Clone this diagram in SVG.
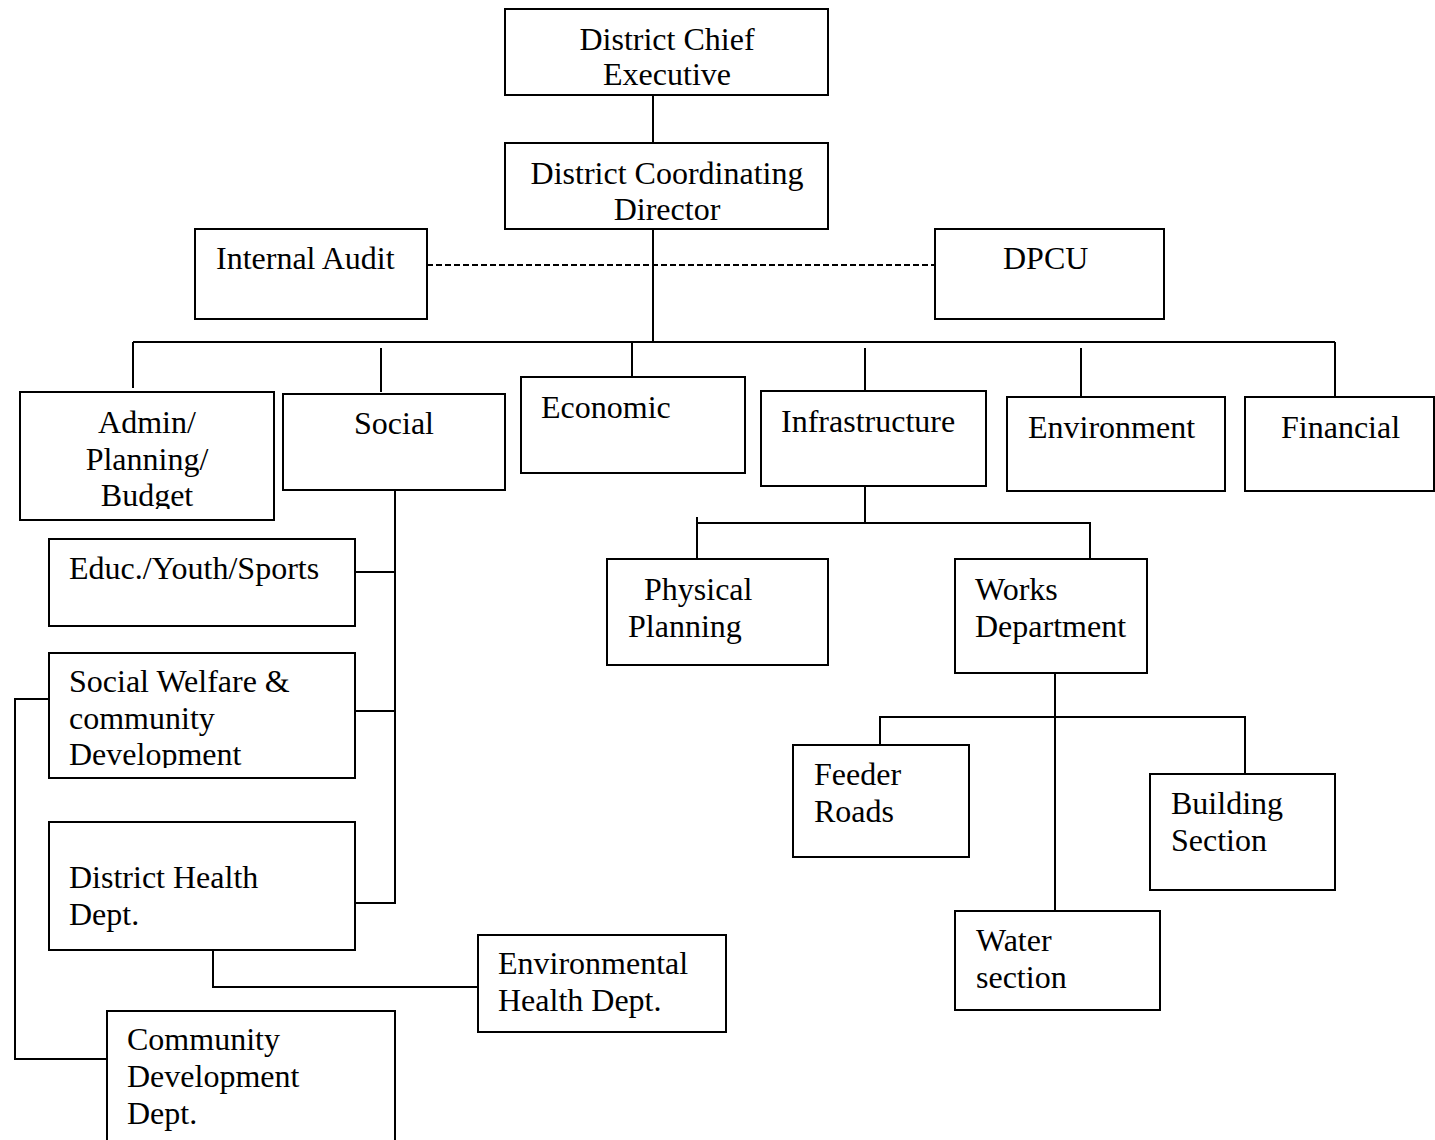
<svg xmlns="http://www.w3.org/2000/svg" width="1435" height="1140" viewBox="0 0 1435 1140">
<style>
.box{fill:#fff;stroke:#000;stroke-width:2}
.t{font-family:"Liberation Serif","Times New Roman",serif;font-size:32px;fill:#000}
.c{text-anchor:middle}
.ln{fill:none;stroke:#000;stroke-width:2}
.dash{fill:none;stroke:#000;stroke-width:2;stroke-dasharray:6 3}
</style>
<defs>
<clipPath id="cDCD"><rect x="505" y="143" width="323" height="79"/></clipPath>
<clipPath id="cAdmin"><rect x="20" y="392" width="254" height="117"/></clipPath>
<clipPath id="cSW"><rect x="49" y="653" width="306" height="115"/></clipPath>
</defs>
<rect width="1435" height="1140" fill="#fff"/>
<g id="connectors">
<line class="ln" x1="653" y1="95" x2="653" y2="143"/>
<line class="ln" x1="653" y1="229" x2="653" y2="342"/>
<line class="dash" x1="427" y1="265" x2="935" y2="265"/>
<line class="ln" x1="133" y1="342" x2="1335" y2="342"/>
<line class="ln" x1="133" y1="342" x2="133" y2="388"/>
<line class="ln" x1="381" y1="348" x2="381" y2="392"/>
<line class="ln" x1="632" y1="342" x2="632" y2="377"/>
<line class="ln" x1="865" y1="348" x2="865" y2="391"/>
<line class="ln" x1="1081" y1="348" x2="1081" y2="397"/>
<line class="ln" x1="1335" y1="342" x2="1335" y2="397"/>
<polyline class="ln" points="395,490 395,903 355,903"/>
<line class="ln" x1="355" y1="572" x2="395" y2="572"/>
<line class="ln" x1="355" y1="711" x2="395" y2="711"/>
<polyline class="ln" points="213,950 213,987 478,987"/>
<polyline class="ln" points="49,699 15,699 15,1059 107,1059"/>
<line class="ln" x1="865" y1="486" x2="865" y2="523"/>
<polyline class="ln" points="697,559 697,517"/>
<polyline class="ln" points="697,523 1090,523 1090,559"/>
<line class="ln" x1="1055" y1="673" x2="1055" y2="911"/>
<polyline class="ln" points="880,745 880,717 1245,717 1245,774"/>
</g>
<g id="dce"><rect class="box" x="505" y="9" width="323" height="86"/><text class="t c" x="667" y="50">District Chief</text><text class="t c" x="667" y="85">Executive</text></g>
<g id="dcd"><rect class="box" x="505" y="143" width="323" height="86"/><g clip-path="url(#cDCD)"><text class="t c" x="667" y="184">District Coordinating</text><text class="t c" x="667" y="220">Director</text></g></g>
<g id="audit"><rect class="box" x="195" y="229" width="232" height="90"/><text class="t" x="216" y="269">Internal Audit</text></g>
<g id="dpcu"><rect class="box" x="935" y="229" width="229" height="90"/><text class="t" x="1003" y="269">DPCU</text></g>
<g id="admin"><rect class="box" x="20" y="392" width="254" height="128"/><g clip-path="url(#cAdmin)"><text class="t c" x="147" y="433">Admin/</text><text class="t c" x="147" y="470">Planning/</text><text class="t c" x="147" y="506">Budget</text></g></g>
<g id="social"><rect class="box" x="283" y="394" width="222" height="96"/><text class="t c" x="394" y="434">Social</text></g>
<g id="economic"><rect class="box" x="521" y="377" width="224" height="96"/><text class="t" x="541" y="418">Economic</text></g>
<g id="infra"><rect class="box" x="761" y="391" width="225" height="95"/><text class="t" x="781" y="432">Infrastructure</text></g>
<g id="environment"><rect class="box" x="1007" y="397" width="218" height="94"/><text class="t" x="1028" y="438">Environment</text></g>
<g id="financial"><rect class="box" x="1245" y="397" width="189" height="94"/><text class="t" x="1281" y="438">Financial</text></g>
<g id="educ"><rect class="box" x="49" y="539" width="306" height="87"/><text class="t" x="69" y="579">Educ./Youth/Sports</text></g>
<g id="welfare"><rect class="box" x="49" y="653" width="306" height="125"/><g clip-path="url(#cSW)"><text class="t" x="69" y="692">Social Welfare &amp;</text><text class="t" x="69" y="729">community</text><text class="t" x="69" y="765">Development</text></g></g>
<g id="health"><rect class="box" x="49" y="822" width="306" height="128"/><text class="t" x="69" y="888">District Health</text><text class="t" x="69" y="925">Dept.</text></g>
<g id="envhealth"><rect class="box" x="478" y="935" width="248" height="97"/><text class="t" x="498" y="974">Environmental</text><text class="t" x="498" y="1011">Health Dept.</text></g>
<g id="commdev"><rect class="box" x="107" y="1011" width="288" height="140"/><text class="t" x="127" y="1050">Community</text><text class="t" x="127" y="1087">Development</text><text class="t" x="127" y="1124">Dept.</text></g>
<g id="physical"><rect class="box" x="607" y="559" width="221" height="106"/><text class="t" x="644" y="600">Physical</text><text class="t" x="628" y="637">Planning</text></g>
<g id="works"><rect class="box" x="955" y="559" width="192" height="114"/><text class="t" x="975" y="600">Works</text><text class="t" x="975" y="637">Department</text></g>
<g id="feeder"><rect class="box" x="793" y="745" width="176" height="112"/><text class="t" x="814" y="785">Feeder</text><text class="t" x="814" y="822">Roads</text></g>
<g id="building"><rect class="box" x="1150" y="774" width="185" height="116"/><text class="t" x="1171" y="814">Building</text><text class="t" x="1171" y="851">Section</text></g>
<g id="water"><rect class="box" x="955" y="911" width="205" height="99"/><text class="t" x="976" y="951">Water</text><text class="t" x="976" y="988">section</text></g>
</svg>
